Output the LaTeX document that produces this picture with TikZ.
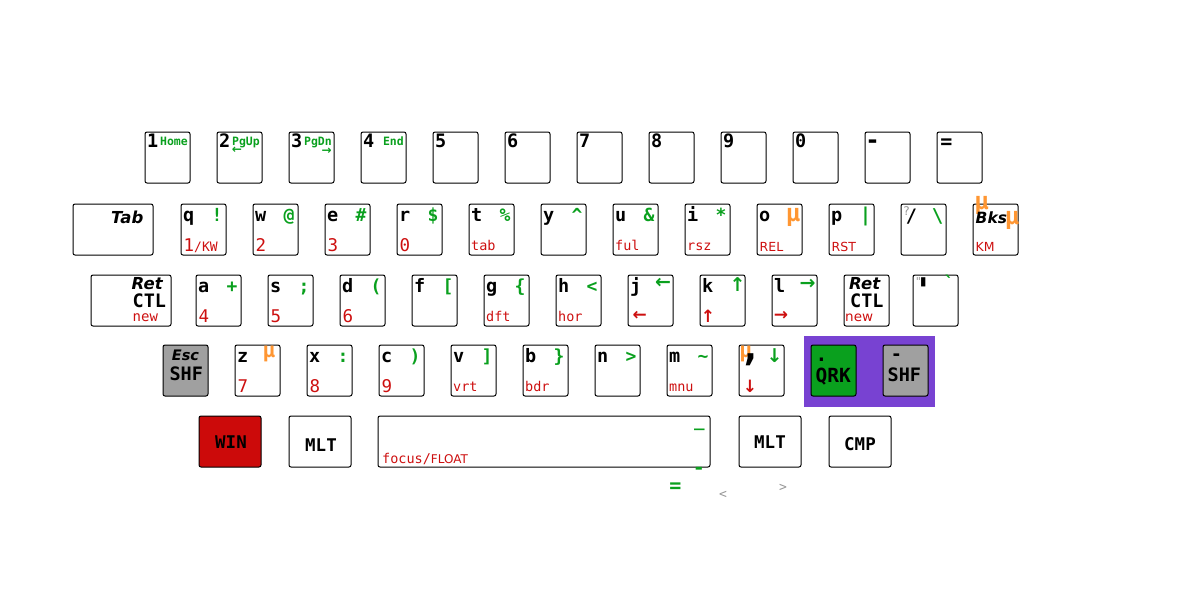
\documentclass[tikz,border=0pt]{standalone}
\usepackage{fontspec}
\setmainfont{DejaVu Sans}
\newfontfamily\monof{DejaVu Sans Mono}[Ligatures=TeXOff]
\usetikzlibrary{calc}
\definecolor{kgreen}{RGB}{10,160,30}
\definecolor{kred}{RGB}{205,15,15}
\definecolor{kwin}{RGB}{204,10,10}
\definecolor{korange}{RGB}{255,150,50}
\definecolor{kpurple}{RGB}{120,66,210}
\definecolor{kgray}{RGB}{160,160,160}
\definecolor{klgray}{RGB}{150,150,150}
\newcommand\fs[1]{\fontsize{#1}{#1}\selectfont}
\newcommand\kdig[2]{\node[blk] (#1-l) at ($(#1.north west)+(2,15)$) {#2};}
\newcommand\klet[2]{\node[blk] (#1-l) at ($(#1.north west)+(2,17)$) {#2};}
\newcommand\ksym[2]{\node[grn] (#1-s) at ($(#1.north west)+(36,17.5)$) {#2};}
\newcommand\kbig[2]{\node[rdbig] (#1-r) at ($(#1.south west)+(2.5,-4)$) {#2};}
\newcommand\ksm[2]{\node[rdsm] (#1-r) at ($(#1.south west)+(2,-4.5)$) {#2};}
\newcommand\ksans[2]{\node[rdsans] (#1-r) at ($(#1.south west)+(2.5,-4)$) {#2};}
\begin{document}
\begin{tikzpicture}[x=1pt,y=-1pt,
  key/.style={draw=black,line width=1pt,rounded corners=2pt,anchor=north west,minimum width=45pt,minimum height=51pt,inner sep=0pt,outer sep=0pt},
  blk/.style={anchor=base west,inner sep=0pt,font=\monof\bfseries\fs{18.5}},
  grn/.style={anchor=base,inner sep=0pt,text=kgreen,font=\monof\bfseries\fs{18}},
  rdbig/.style={anchor=base west,inner sep=0pt,text=kred,font=\monof\fs{17.5}},
  rdsm/.style={anchor=base west,inner sep=0pt,text=kred,font=\monof\fs{13.5}},
  rdsans/.style={anchor=base west,inner sep=0pt,text=kred,font=\fs{12.5}},
  mu/.style={anchor=base,inner sep=0pt,text=korange,font=\monof\bfseries\fs{24}},
  garrow/.style={inner sep=0pt,text=kgreen,font=\bfseries\fs{19}},
  rarrow/.style={inner sep=0pt,text=kred,font=\bfseries\fs{17}},
  ital/.style={anchor=base west,inner sep=0pt,font=\bfseries\itshape\fs{16.5}},
  bigt/.style={anchor=base west,inner sep=0pt,font=\monof\bfseries\fs{18.5}},
  gword/.style={anchor=base east,inner sep=0pt,text=kgreen,font=\monof\bfseries\fs{11.5}},
  ctext/.style={inner sep=0pt,font=\monof\bfseries\fs{17.5}},
  ]
\useasboundingbox (0,0) rectangle (1200,600);
% group background
\node[fill=kpurple,anchor=north west,minimum width=131pt,minimum height=71pt,inner sep=0pt,outer sep=0pt] (grp) at (804,336) {};
% row 1
\foreach \n/\x in {n1/145,n2/217,n3/289,n4/361,n5/433,n6/505,n7/577,n8/649,n9/721,n0/793,nmin/865,neq/937}
  \node[key] (\n) at (\x,132) {};
% row 2
\node[key,minimum width=80pt] (tab) at (73,204) {};
\foreach \n/\x in {kq/181,kw/253,ke/325,kr/397,kt/469,ky/541,ku/613,ki/685,ko/757,kp/829,kslash/901,bks/973}
  \node[key] (\n) at (\x,204) {};
% row 3
\node[key,minimum width=80pt] (ret1) at (91,275) {};
\foreach \n/\x in {ka/196,ks/268,kd/340,kf/412,kg/484,kh/556,kj/628,kk/700,kl/772,ret2/844,kquote/913}
  \node[key] (\n) at (\x,275) {};
% row 4
\node[key,fill=kgray] (esc) at (163,345) {};
\foreach \n/\x in {kz/235,kx/307,kc/379,kv/451,kb/523,kn/595,km/667,kcomma/739}
  \node[key] (\n) at (\x,345) {};
\node[key,fill=kgreen] (qrk) at (811,345) {};
\node[key,fill=kgray] (shf) at (883,345) {};
% row 5
\node[key,minimum width=62pt,fill=kwin] (win) at (199,416) {};
\node[key,minimum width=62pt] (mlt1) at (289,416) {};
\node[key,minimum width=332pt] (space) at (378,416) {};
\node[key,minimum width=62pt] (mlt2) at (739,416) {};
\node[key,minimum width=62pt] (cmp) at (829,416) {};

% ---- row 1 labels
\kdig{n1}{1}\kdig{n2}{2}\kdig{n3}{3}\kdig{n4}{4}\kdig{n5}{5}\kdig{n6}{6}
\kdig{n7}{7}\kdig{n8}{8}\kdig{n9}{9}\kdig{n0}{0}
\node[inner sep=0pt,font=\monof\bfseries\fs{24}] (nmin-l) at (872.5,144) {-};
\node[inner sep=0pt,font=\monof\bfseries\fs{20}] (neq-l) at (946.5,143.5) {=};
\node[gword] (n1-g) at ($(n1.north west)+(43,13)$) {Home};
\node[gword] (n2-g) at ($(n2.north west)+(43,13)$) {PgUp};
\node[gword] (n3-g) at ($(n3.north west)+(43,13)$) {PgDn};
\node[gword] (n4-g) at ($(n4.north west)+(43,13)$) {End};
\node[garrow,font=\bfseries\fs{12}] (n2-a) at (237,150) {←};
\node[garrow,font=\bfseries\fs{12}] (n3-a) at (326.7,151) {→};

% ---- row 2 labels
\node[ital,anchor=base east,font=\bfseries\itshape\fs{16.5}] (tab-l) at (143.5,223) {Tab};
\klet{kq}{q}\klet{kw}{w}\klet{ke}{e}\klet{kr}{r}\klet{kt}{t}\klet{ky}{y}
\klet{ku}{u}\klet{ki}{i}\klet{ko}{o}\klet{kp}{p}
\ksym{kq}{!}\ksym{kw}{@}\ksym{ke}{\#}\ksym{kr}{\$}\ksym{kt}{\%}
\ksym{ky}{\textasciicircum}\ksym{ku}{\&}\ksym{ki}{*}
\node[mu] (ko-mu) at (793,221.5) {μ};
\node[inner sep=0pt,text=kgreen,font=\monof\bfseries\fs{19}] (kp-s) at (865.5,216.3) {|};
\node[rdbig] (kq-r) at ($(kq.south west)+(2.5,-4)$) {1{\fs{13}/KW}};
\kbig{kw}{2}\kbig{ke}{3}\kbig{kr}{0}
\ksm{kt}{tab}\ksm{ku}{ful}\ksm{ki}{rsz}
\ksans{ko}{REL}\ksans{kp}{RST}
\node[inner sep=0pt,text=klgray,font=\monof\fs{12}] (kslash-q) at (906.5,211.3) {?};
\node[inner sep=0pt,font=\monof\bfseries\fs{18.5}] (kslash-l) at (911.5,216.3) {/};
\node[inner sep=0pt,text=kgreen,font=\monof\bfseries\fs{19}] (kslash-s) at (937.7,216.5) {\textbackslash};
\node[mu] (bks-mu1) at (981.5,209) {μ};
\node[ital,font=\bfseries\itshape\fs{15.5}] (bks-l) at (975.5,223) {Bks};
\node[mu] (bks-mu2) at (1012,224) {μ};
\ksans{bks}{KM}

% ---- row 3 labels
\node[ital] (ret1-a) at (131.5,289.5) {Ret};
\node[bigt] (ret1-b) at (132.5,307) {CTL};
\node[anchor=base west,inner sep=0pt,text=kred,font=\monof\fs{14}] (ret1-c) at (132.5,321) {new};
\klet{ka}{a}\klet{ks}{s}\klet{kd}{d}\klet{kf}{f}\klet{kg}{g}\klet{kh}{h}
\klet{kj}{j}\klet{kk}{k}\klet{kl}{l}
\ksym{ka}{+}\ksym{ks}{;}\ksym{kd}{(}\ksym{kf}{[}\ksym{kg}{\{}\ksym{kh}{<}
\node[garrow] (kj-s) at (663,283.5) {←};
\node[garrow] (kk-s) at (737.5,285) {↑};
\node[garrow] (kl-s) at (807.7,284.7) {→};
\kbig{ka}{4}\kbig{ks}{5}\kbig{kd}{6}
\ksm{kg}{dft}\ksm{kh}{hor}
\node[rarrow] (kj-r) at (639.7,316) {←};
\node[rarrow] (kk-r) at (708,316) {↑};
\node[rarrow] (kl-r) at (781,316) {→};
\node[ital] (ret2-a) at (849,289.5) {Ret};
\node[bigt] (ret2-b) at (850,307) {CTL};
\node[anchor=base west,inner sep=0pt,text=kred,font=\fs{13.5}] (ret2-c) at (845,321) {new};
\node[inner sep=0pt,text=klgray,font=\monof\fs{11}] (kquote-d) at (918.5,281.5) {"};
\node[inner sep=0pt,font=\monof\bfseries\fs{34}] (kquote-l) at (923.5,290) {'};
\node[inner sep=0pt,text=kgreen,font=\monof\bfseries\fs{18}] (kquote-s) at (949,282) {`};

% ---- row 4 labels
\node[anchor=base,inner sep=0pt,font=\bfseries\itshape\fs{14.5}] (esc-a) at (185.5,360) {Esc};
\node[anchor=base,inner sep=0pt,font=\monof\bfseries\fs{18.5}] (esc-b) at (186.3,380) {SHF};
\klet{kz}{z}\klet{kx}{x}\klet{kc}{c}\klet{kv}{v}\klet{kb}{b}\klet{kn}{n}\klet{km}{m}
\node[mu,font=\monof\bfseries\fs{21}] (kz-mu) at (269,357.5) {μ};
\ksym{kx}{:}\ksym{kc}{)}\ksym{kv}{]}\ksym{kb}{\}}\ksym{kn}{>}\ksym{km}{\textasciitilde}
\kbig{kz}{7}\kbig{kx}{8}\kbig{kc}{9}
\ksm{kv}{vrt}\ksm{kb}{bdr}\ksm{km}{mnu}
\node[mu,font=\monof\bfseries\fs{21}] (kcomma-mu) at (745.8,357.5) {μ};
\node[inner sep=0pt,font=\monof\bfseries\fs{38}] (kcomma-l) at (750.5,360) {,};
\node[garrow] (kcomma-s) at (774.5,356) {↓};
\node[rarrow] (kcomma-r) at (750,386.7) {↓};
\node[anchor=base west,inner sep=0pt,font=\monof\bfseries\fs{19.5}] (qrk-a) at (815.5,361) {.};
\node[anchor=base west,inner sep=0pt,font=\monof\bfseries\fs{19.5}] (qrk-b) at (815.5,382.5) {QRK};
\node[anchor=base west,inner sep=0pt,font=\monof\bfseries\fs{18.5}] (shf-a) at (890.7,360) {-};
\node[anchor=base west,inner sep=0pt,font=\monof\bfseries\fs{18.5}] (shf-b) at (887.5,381.7) {SHF};

% ---- row 5 labels
\node[ctext] (win-l) at (231,442.5) {WIN};
\node[ctext] (mlt1-l) at (321,445) {MLT};
\node[ctext] (mlt2-l) at (770,442) {MLT};
\node[ctext] (cmp-l) at (860,444) {CMP};
\node[anchor=base west,inner sep=0pt,text=kred] (space-r) at (382,463) {{\monof\fs{13.5}focus/}{\fs{12}FLOAT}};
\node[inner sep=0pt,text=kgreen,font=\monof\bfseries\fs{17.5}] (space-s) at (699.5,428.5) {\_};
\node[inner sep=0pt,text=kgreen,font=\monof\bfseries\fs{20}] (sub-min) at (699,471) {-};
\node[inner sep=0pt,text=kgreen,font=\monof\bfseries\fs{20}] (sub-eq) at (675.5,488) {=};
\node[inner sep=0pt,text=klgray,font=\monof\fs{13}] (sub-lt) at (723,494.5) {<};
\node[inner sep=0pt,text=klgray,font=\monof\fs{13}] (sub-gt) at (783,487.5) {>};
\end{tikzpicture}
\end{document}
